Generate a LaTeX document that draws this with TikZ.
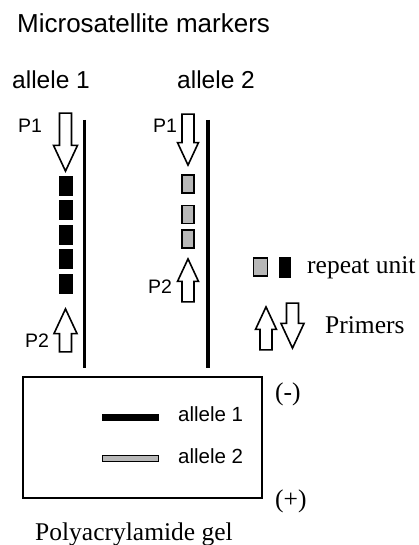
\documentclass[tikz,border=0pt]{standalone}
\usepackage{fontspec}
\setmainfont{Liberation Serif}
\setsansfont{Liberation Sans}
\usetikzlibrary{shapes.arrows}

\tikzset{
  title/.style={font=\sffamily\fontsize{26}{28}\selectfont, inner sep=0pt, anchor=base west},
  big/.style={font=\sffamily\fontsize{24.5}{26}\selectfont, inner sep=0pt, anchor=base west},
  small/.style={font=\sffamily\fontsize{19.5}{21}\selectfont, inner sep=0pt, anchor=base west},
  gellab/.style={font=\sffamily\fontsize{20.5}{22}\selectfont, inner sep=0pt, anchor=base west},
  serif/.style={font=\rmfamily\fontsize{25.5}{27}\selectfont, inner sep=0pt, anchor=base west},
  primer/.style={single arrow, draw=black, line width=1.6pt, fill=white,
    inner xsep=0pt, inner ysep=5.2pt, minimum width=0pt,
    single arrow head extend=5.5pt, single arrow tip angle=50,
    single arrow head indent=0pt, anchor=tip},
  unitblack/.style={draw=black, fill=black, minimum width=13pt, minimum height=19pt, inner sep=0pt},
  unitgray/.style={draw=black, line width=1.5pt, fill=black!28, minimum width=12pt, minimum height=18pt, inner sep=0pt},
  strand/.style={line width=3.5pt}
}

\begin{document}
\begin{tikzpicture}[x=1pt, y=-1pt]
	\useasboundingbox (0,0) rectangle (419,545);
	
	\node[title] (head) at (17,33) {Microsatellite markers};
	\node[big] (a1) at (12,89) {allele 1};
	\node[big] (a2) at (177,89) {allele 2};
	
	% strands
	\coordinate (s1t) at (84.5,120);
	\coordinate (s1b) at (84.5,368);
	\coordinate (s2t) at (208,120);
	\coordinate (s2b) at (208,368);
	\draw[strand] (s1t) -- (s1b);
	\draw[strand] (s2t) -- (s2b);
	
	% allele 1
	\node[primer, minimum height=58pt, single arrow head extend=6pt, rotate=-90] (p1a) at (65.5,173) {};
	\node[primer, minimum height=43pt, rotate=90] (p2a) at (65.5,307) {};
	\node[small] (l1a) at (18,133) {P1};
	\node[small] (l2a) at (25,347) {P2};
	\foreach \i in {0,...,4}
		\node[unitblack] (u\i) at (65.5,185.5+24.5*\i) {};
	
	% allele 2
	\node[primer, minimum height=51pt, single arrow head extend=4.5pt, rotate=-90] (p1b) at (188,167) {};
	\node[primer, minimum height=43pt, single arrow head extend=4.5pt, rotate=90] (p2b) at (188,257) {};
	\node[small] (l1b) at (153,133) {P1};
	\node[small] (l2b) at (148,293) {P2};
	\node[unitgray] (g0) at (188,184) {};
	\node[unitgray] (g1) at (188,214.5) {};
	\node[unitgray] (g2) at (188,239) {};
	
	% legend
	\node[unitgray, minimum width=14pt] (kg) at (260.5,267) {};
	\node[unitblack, minimum width=11pt, minimum height=20pt] (kb) at (284.5,267) {};
	\node[serif] (rep) at (307,273) {repeat unit};
	\node[primer, minimum height=43pt, single arrow head extend=4.5pt, rotate=90] (kup) at (266,305) {};
	\node[primer, minimum height=45pt, rotate=-90] (kdn) at (292.5,350) {};
	\node[serif] (pri) at (325,333) {Primers};
	
	% gel
	\draw[line width=2.2pt] (23,377) rectangle (262,498);
	\fill (102,413.5) rectangle (159,420.5);
	\draw[line width=1.2pt, fill=black!28] (102.5,455.5) rectangle (158.5,461.5);
	\node[gellab] (b1) at (178,421) {allele 1};
	\node[gellab] (b2) at (178,463) {allele 2};
	\node[serif] (neg) at (275,400) {(-)};
	\node[serif] (pos) at (275,507) {(+)};
	\node[serif] (gel) at (35,540) {Polyacrylamide gel};
	
\end{tikzpicture}
\end{document}
